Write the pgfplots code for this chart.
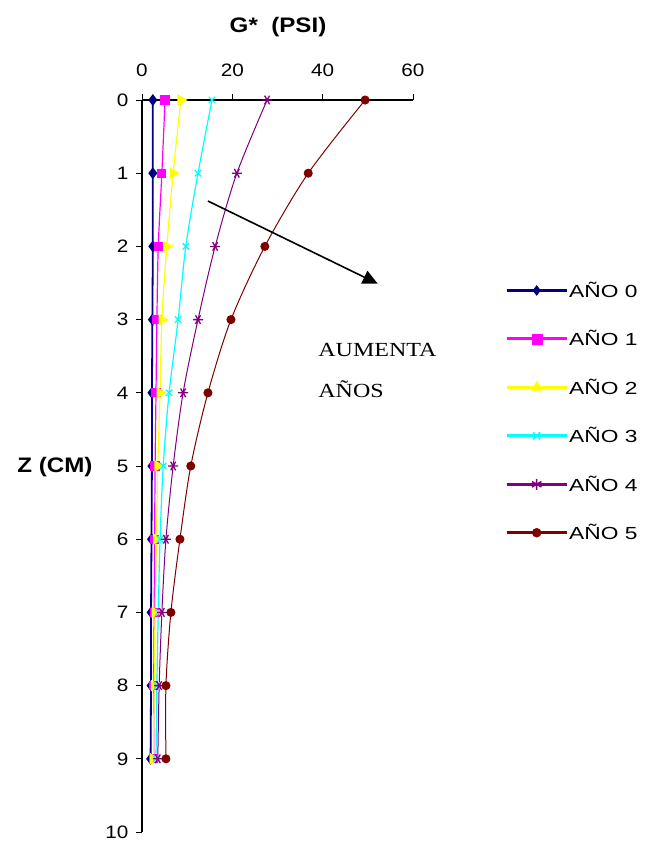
\documentclass[border=0pt]{standalone}
\usepackage{pgfplots}
\pgfplotsset{compat=1.18}
\usetikzlibrary{arrows.meta}
\usepackage{fontspec}
\setmainfont{Liberation Sans}[FakeStretch=1.15]
\newfontfamily\legf{Liberation Sans}[FakeStretch=1.3]
\newfontfamily\serifx{Liberation Serif}[FakeStretch=1.2]
\definecolor{cnavy}{RGB}{0,0,128}
\definecolor{cmag}{RGB}{255,0,255}
\definecolor{cyel}{RGB}{255,255,0}
\definecolor{ccyan}{RGB}{0,255,255}
\definecolor{cpurp}{RGB}{128,0,128}
\definecolor{cdred}{RGB}{128,0,0}
\begin{document}
\begin{tikzpicture}
\useasboundingbox (0,0) rectangle (649bp,-841bp);
\begin{axis}[
  at={(142bp,-100bp)}, anchor=north west,
  scale only axis, width=271bp, height=732bp,
  xmin=0, xmax=60, ymin=0, ymax=10,
  y dir=reverse,
  axis x line*=top, axis y line*=left,
  xtick={0,20,40,60}, ytick={0,1,...,10},
  tick align=outside, major tick length=6bp,
  tick style={black, line width=1bp},
  axis line style={black, line width=1.2bp},
  /pgf/number format/assume math mode=true,
  ticklabel style={font=\fontsize{18bp}{20bp}\selectfont},
  xticklabel style={yshift=14bp},
  yticklabel style={xshift=-4bp},
  xlabel={\bfseries G*~~(PSI)},
  ylabel={\bfseries Z (CM)},
  every axis x label/.style={at={(axis description cs:0.502,1.0997)}, anchor=center, font=\fontsize{21bp}{24bp}\selectfont},
  every axis y label/.style={at={(axis description cs:-0.321,0.499)}, anchor=center, font=\fontsize{21bp}{24bp}\selectfont},
  clip=false,
  legend style={draw=none, fill=none, at={(axis description cs:1.3395,0.753)}, anchor=north west,
    inner sep=0pt, row sep=29.6bp, font=\legf\fontsize{17.5bp}{19bp}\selectfont,
    nodes={inner sep=1bp, anchor=west}},
  legend cell align=left,
  legend image code/.code={
    \draw[#1, line width=3bp, mark=none] (0bp,0bp) -- (60bp,0bp);
    \draw[#1, only marks] plot coordinates {(30bp,0bp)};
  },
]
% AÑO 0
\addplot[forget plot, cnavy, line width=1.8bp, mark=diamond*, mark size=4.5bp, mark options={solid}] coordinates {
 (2.4,0) (2.4,1) (2.4,2) (2.3,3) (2.2,4) (2.2,5) (2.1,6) (2.0,7) (2.0,8) (1.9,9)};
% AÑO 1
\addplot[forget plot, cmag, line width=1.2bp, smooth, mark=square*, mark size=4bp] coordinates {
 (5.1,0) (4.4,1) (3.6,2) (3.3,3) (3.1,4) (2.9,5) (2.8,6) (2.7,7) (2.6,8) (2.6,9)};
% AÑO 2
\addplot[forget plot, cyel, line width=1.2bp, smooth, mark=triangle*, mark size=5.5bp, mark options={rotate=-90}] coordinates {
 (8.6,0) (6.9,1) (5.5,2) (4.4,3) (4.0,4) (3.5,5) (3.2,6) (2.9,7) (2.7,8) (2.5,9)};
% AÑO 3
\addplot[forget plot, ccyan, line width=1.2bp, smooth, mark=x, mark size=4.5bp, mark options={line width=1.3bp}] coordinates {
 (15.5,0) (12.4,1) (9.7,2) (8.0,3) (6.0,4) (4.7,5) (4.0,6) (3.6,7) (3.3,8) (3.1,9)};
% AÑO 4
\addplot[forget plot, cpurp, line width=1bp, smooth, mark=asterisk, mark size=5bp, mark options={rotate=90, line width=1.3bp}] coordinates {
 (27.7,0) (21.0,1) (16.2,2) (12.4,3) (9.1,4) (6.9,5) (5.3,6) (4.4,7) (3.8,8) (3.5,9)};
% AÑO 5
\addplot[forget plot, cdred, line width=1bp, smooth, mark=*, mark size=4bp] coordinates {
 (49.4,0) (36.8,1) (27.2,2) (19.7,3) (14.6,4) (10.8,5) (8.4,6) (6.4,7) (5.3,8) (5.3,9)};

\addlegendimage{cnavy, mark=diamond*, mark size=5bp}
\addlegendentry{AÑO 0}
\addlegendimage{cmag, mark=square*, mark size=5bp}
\addlegendentry{AÑO 1}
\addlegendimage{cyel, mark=triangle*, mark size=6bp}
\addlegendentry{AÑO 2}
\addlegendimage{ccyan, mark=x, mark size=5bp, mark options={line width=1.5bp}}
\addlegendentry{AÑO 3}
\addlegendimage{cpurp, mark=asterisk, mark size=5.5bp, mark options={line width=1.5bp}}
\addlegendentry{AÑO 4}
\addlegendimage{cdred, mark=*, mark size=4.5bp}
\addlegendentry{AÑO 5}

\draw[black, line width=1.6bp, -{Triangle[length=15bp,width=14bp]}] (axis cs:14.6,1.38) -- (axis cs:52.2,2.51);
\node[anchor=base west, inner sep=0pt, font=\serifx\fontsize{20bp}{22bp}\selectfont] at (axis cs:39,3.51) {AUMENTA};
\node[anchor=base west, inner sep=0pt, font=\serifx\fontsize{20bp}{22bp}\selectfont] at (axis cs:39,4.07) {AÑOS};
\end{axis}
\end{tikzpicture}
\end{document}
